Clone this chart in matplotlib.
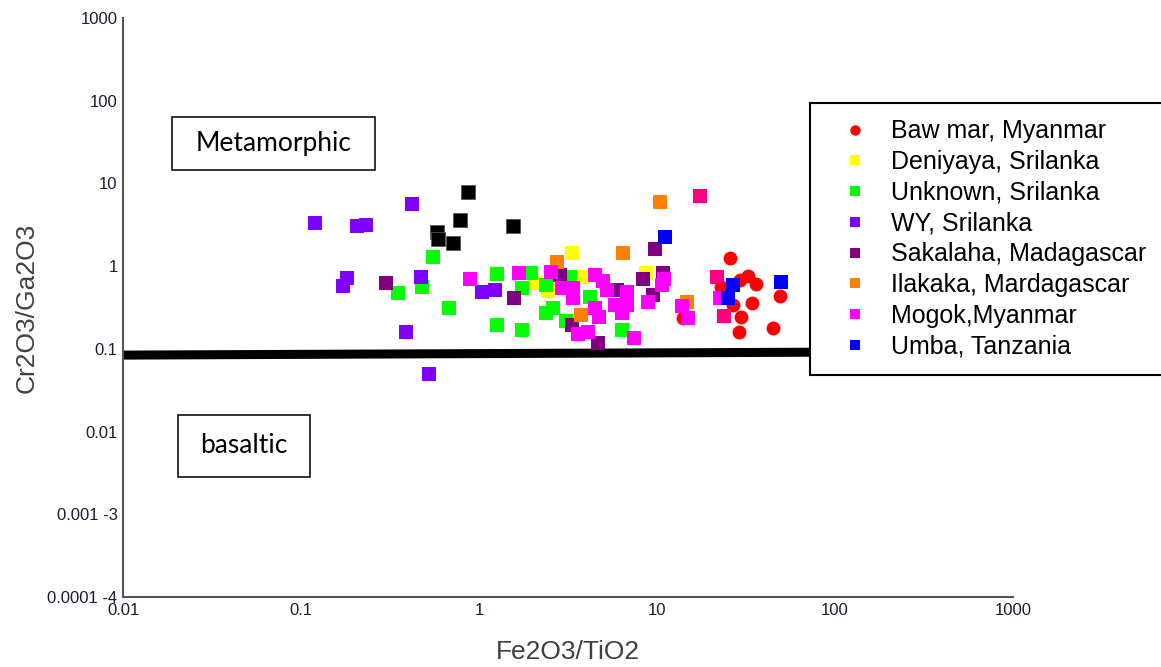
import matplotlib
matplotlib.use("Agg")
from matplotlib import pyplot as plt
from matplotlib.patches import Rectangle

plt.rcParams["font.family"] = ["Liberation Sans", "DejaVu Sans"]

# values (Fe2O3/TiO2, Cr2O3/Ga2O3)
bawmar_x = [25.7, 22.9, 32.4, 36.0, 34.2, 29.6, 28.9, 44.9, 49.1, 14.0, 26.7, 29.2]
bawmar_y = [1.25, 0.56, 0.76, 0.61, 0.36, 0.24, 0.16, 0.18, 0.43, 0.235, 0.34, 0.68]

deniyaya_x = [3.33, 3.84, 2.09, 2.44, 8.7]
deniyaya_y = [1.44, 0.74, 0.62, 0.50, 0.83]

unknown_x = [0.55, 0.35, 0.48, 0.68, 1.26, 1.26, 1.75, 1.75, 1.96, 2.38, 2.38, 2.6,
             3.08, 3.25, 4.2, 6.35]
unknown_y = [1.29, 0.47, 0.56, 0.31, 0.80, 0.194, 0.169, 0.54, 0.83, 0.59, 0.27, 0.31,
             0.22, 0.74, 0.42, 0.169]

wy_x = [0.12, 0.207, 0.232, 0.42, 0.181, 0.172, 0.47, 0.39, 0.52, 1.04, 1.23]
wy_y = [3.3, 3.05, 3.14, 5.6, 0.72, 0.57, 0.74, 0.16, 0.0495, 0.49, 0.51]

sakalaha_x = [0.30, 1.57, 2.85, 3.33, 4.67, 5.96, 8.3, 10.8, 9.5, 9.75]
sakalaha_y = [0.62, 0.41, 0.78, 0.194, 0.117, 0.51, 0.70, 0.83, 0.45, 1.61]

ilakaka_x = [2.74, 6.44, 3.74, 10.4, 14.8]
ilakaka_y = [1.12, 1.44, 0.26, 5.96, 0.37]

mogok_x = [0.89, 1.68, 2.54, 2.92, 3.37, 3.37, 4.49, 4.98, 5.24, 6.78, 5.81, 6.78,
           6.35, 4.49, 4.72, 3.6, 4.09, 7.43, 10.9, 10.7, 8.9, 13.8, 14.9, 22.6]
mogok_y = [0.70, 0.83, 0.85, 0.54, 0.54, 0.41, 0.78, 0.66, 0.51, 0.49, 0.34, 0.34,
           0.27, 0.31, 0.24, 0.151, 0.16, 0.135, 0.70, 0.59, 0.37, 0.33, 0.235, 0.41]

umba_x = [11.1, 26.7, 25.1, 49.8]
umba_y = [2.25, 0.59, 0.41, 0.64]

# unlabelled groups in the original
black_x = [0.58, 0.59, 0.71, 0.78, 0.87, 1.55]
black_y = [2.58, 2.13, 1.90, 3.6, 7.9, 3.05]
pink_x = [17.5, 21.7, 23.8]
pink_y = [7.05, 0.74, 0.25]

# boundary line between metamorphic and basaltic fields
line_x = [0.01, 72]
line_y = [0.084, 0.091]

x_ticks = [0.01, 0.1, 1, 10, 100, 1000]
x_ticklabels = ["0.01", "0.1", "1", "10", "100", "1000"]
y_ticks = [0.0001, 0.001, 0.01, 0.1, 1, 10, 100, 1000]
y_ticklabels = ["0.0001 -4", "0.001 -3", "0.01", "0.1", "1", "10", "100", "1000"]

fig = plt.figure(figsize=(11.61, 6.67), dpi=100)
ax = fig.add_axes([0.106, 0.105, 0.7666, 0.868])

ax.plot(line_x, line_y, color="black", lw=6.5, solid_capstyle="butt", zorder=1)

ms = 10
ax.plot(black_x, black_y, "s", color="black", ms=ms, mec="#555555", mew=0.6, zorder=2)
ax.plot(bawmar_x, bawmar_y, "o", color="#ff0000", ms=ms, mew=0, zorder=2,
        label="Baw mar, Myanmar")
ax.plot(pink_x, pink_y, "s", color="#ff0080", ms=ms, mew=0, zorder=2)
groups = [
    (deniyaya_x, deniyaya_y, "#ffff00", "Deniyaya, Srilanka"),
    (unknown_x, unknown_y, "#00ff00", "Unknown, Srilanka"),
    (wy_x, wy_y, "#7f00ff", "WY, Srilanka"),
    (sakalaha_x, sakalaha_y, "#800080", "Sakalaha, Madagascar"),
    (ilakaka_x, ilakaka_y, "#ff8000", "Ilakaka, Mardagascar"),
    (mogok_x, mogok_y, "#ff00ff", "Mogok,Myanmar"),
    (umba_x, umba_y, "#0000ff", "Umba, Tanzania"),
]
for gx, gy, color, label in groups:
    ax.plot(gx, gy, "s", color=color, ms=ms, mew=0, zorder=2, label=label)

ax.set_xscale("log")
ax.set_yscale("log")
ax.set_xlim(0.01, 1000)
ax.set_ylim(0.0001, 1000)
ax.set_xticks(x_ticks)
ax.set_xticklabels(x_ticklabels)
ax.set_yticks(y_ticks)
ax.set_yticklabels(y_ticklabels)
ax.minorticks_off()
ax.tick_params(length=0, labelsize=12, labelcolor="#1a1a33", pad=4)

for side in ["top", "right"]:
    ax.spines[side].set_visible(False)
for side in ["left", "bottom"]:
    ax.spines[side].set_color("#555555")
    ax.spines[side].set_linewidth(1.5)

ax.set_xlabel("Fe2O3/TiO2", fontsize=19, color="#404040", labelpad=16)
ax.set_ylabel("Cr2O3/Ga2O3", fontsize=19, color="#404040", labelpad=6)

# field labels in boxes (axes fraction)
for (x0, y0, w, h), label in [((0.055, 0.7375, 0.228, 0.0915), "Metamorphic"),
                              ((0.0618, 0.2073, 0.1482, 0.107), "basaltic")]:
    ax.add_patch(Rectangle((x0, y0), w, h, transform=ax.transAxes, fc="white",
                           ec="#111111", lw=1.2, zorder=3, clip_on=False))
    ax.text(x0 + w / 2, y0 + h / 2, label, transform=ax.transAxes, fontsize=19,
            family=["Lato", "DejaVu Sans"], ha="center", va="center", zorder=4)

leg = ax.legend(loc="upper left", bbox_to_anchor=(810 / 1161, 1 - 103 / 667),
                bbox_transform=fig.transFigure, fontsize=18, frameon=True,
                fancybox=False, framealpha=1, edgecolor="black", markerscale=0.75,
                labelspacing=0.27, borderpad=0.65, handlelength=2.3, handletextpad=0.3,
                borderaxespad=0)
leg.get_frame().set_linewidth(1.5)
leg.set_zorder(5)

plt.savefig("out.png", dpi=100)
plt.close()
